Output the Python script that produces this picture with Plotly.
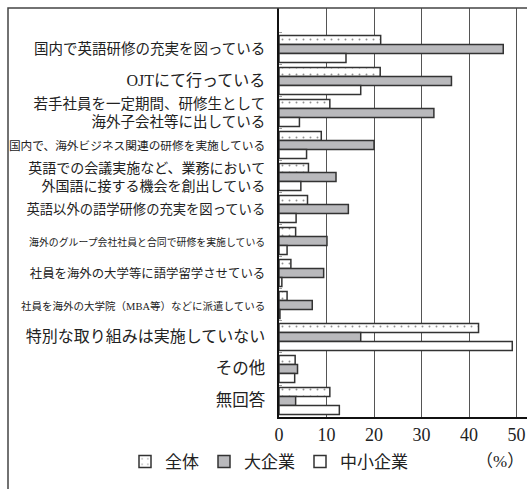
import plotly.graph_objects as go

categories = [
    "国内で英語研修の充実を図っている",
    "OJTにて行っている",
    "若手社員を一定期間、研修生として<br>海外子会社等に出している",
    "国内で、海外ビジネス関連の研修を実施している",
    "英語での会議実施など、業務において<br>外国語に接する機会を創出している",
    "英語以外の語学研修の充実を図っている",
    "海外のグループ会社社員と合同で研修を実施している",
    "社員を海外の大学等に語学留学させている",
    "社員を海外の大学院（MBA等）などに派遣している",
    "特別な取り組みは実施していない",
    "その他",
    "無回答",
]
label_sizes = [14.5, 16, 14.5, 11.7, 14, 13.3, 9.9, 12.4, 10.5, 16, 16.5, 16.5]

series_names = ["全体", "大企業", "中小企業"]
zentai = [21.4, 21.3, 10.7, 8.9, 6.2, 6.0, 3.5, 2.5, 1.7, 42.0, 3.4, 10.7]
daikigyo = [47.2, 36.3, 32.6, 20.0, 12.0, 14.6, 10.1, 9.4, 7.0, 17.2, 3.9, 3.5]
chusho = [14.1, 17.2, 4.3, 5.8, 4.6, 3.6, 1.7, 0.6, 0.2, 49.1, 3.3, 12.7]

x_ticks = [0, 10, 20, 30, 40, 50]

FONT = "Liberation Serif, Noto Sans CJK JP, sans-serif"
TXT = "#222222"
EDGE = "#333333"

def styled(label, size):
    return "<br>".join(
        f'<span style="font-size:{size}px">{part}</span>' for part in label.split("<br>")
    )

ticktext = [styled(c, s) for c, s in zip(categories, label_sizes)]

fig = go.Figure()
fig.add_trace(go.Bar(
    y=categories, x=zentai, orientation="h", name=series_names[0],
    marker=dict(color="white", line=dict(color=EDGE, width=1.5),
                pattern=dict(shape=".", size=7, solidity=0.06,
                             fgcolor="#222222", bgcolor="white")),
))
fig.add_trace(go.Bar(
    y=categories, x=daikigyo, orientation="h", name=series_names[1],
    marker=dict(color="#b9b9bc", line=dict(color=EDGE, width=1.5)),
))
fig.add_trace(go.Bar(
    y=categories, x=chusho, orientation="h", name=series_names[2],
    marker=dict(color="white", line=dict(color=EDGE, width=1.5)),
))

fig.update_layout(
    width=527, height=489,
    margin=dict(l=279, r=0, t=8, b=72, autoexpand=False),
    paper_bgcolor="white", plot_bgcolor="white",
    barmode="group", bargap=0.156, bargroupgap=0,
    font=dict(family=FONT, color=TXT, size=16),
    showlegend=True,
    legend=dict(orientation="h", x=(125 - 279) / 248, xanchor="left",
                y=-0.11, yanchor="middle",
                font=dict(size=17, family=FONT, color=TXT), traceorder="normal",
                itemwidth=30, bgcolor="rgba(0,0,0,0)"),
    xaxis=dict(range=[0, 52.2], tickvals=x_ticks, ticktext=[str(t) for t in x_ticks],
               showgrid=True, gridcolor="#555555", gridwidth=1.3,
               showline=True, linecolor="#111111", linewidth=2,
               zeroline=False, ticks="", tickfont=dict(size=18, family=FONT, color=TXT),
               fixedrange=True),
    yaxis=dict(type="category", categoryorder="array", categoryarray=categories,
               range=[11.5, -1.28], tickvals=categories, ticktext=ticktext,
               showline=True, linecolor="#111111", linewidth=2,
               showgrid=False, zeroline=False,
               ticks="inside", tickson="boundaries", ticklen=3, tickcolor="#999999", tickwidth=1,
               ticklabelstandoff=9,
               tickfont=dict(family=FONT, color=TXT, size=14), fixedrange=True),
    shapes=[dict(type="rect", xref="paper", yref="paper",
                 x0=(8 - 279) / 248, x1=1.3, y0=-0.4, y1=1,
                 line=dict(color="#444444", width=1.5), fillcolor="rgba(0,0,0,0)")],
    annotations=[dict(text="（%）", xref="paper", yref="paper", x=0.891, y=-0.11,
                      xanchor="center", yanchor="middle", showarrow=False,
                      font=dict(size=17, family=FONT, color=TXT))],
)

fig.write_html("out.html")
